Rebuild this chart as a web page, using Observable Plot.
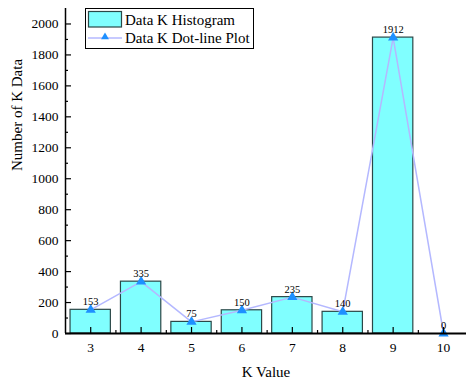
<!DOCTYPE html>
<html>
<head>
<meta charset="utf-8">
<script src="https://cdn.jsdelivr.net/npm/d3@7"></script>
<script src="https://cdn.jsdelivr.net/npm/@observablehq/plot@0.6"></script>
<style>
  html, body { margin: 0; padding: 0; background: #fff; }
  #wrap { position: relative; width: 466px; height: 379px; font-family: "Liberation Serif", "Times New Roman", serif; }
  #wrap svg text { font-family: "Liberation Serif", "Times New Roman", serif !important; font-variant: normal !important; }
  #legend { position: absolute; left: 84.5px; top: 7.5px; }
</style>
</head>
<body>
<div id="wrap"></div>
<script>
const kValues = [3, 4, 5, 6, 7, 8, 9, 10];
const counts = [153, 335, 75, 150, 235, 140, 1912, 0];
const xMajorTicks = [3, 4, 5, 6, 7, 8, 9, 10];
const xMinorTicks = [3.5, 4.5, 5.5, 6.5, 7.5, 8.5, 9.5];
const yMajorTicks = [0, 200, 400, 600, 800, 1000, 1200, 1400, 1600, 1800, 2000];
const yMinorTicks = [100, 300, 500, 700, 900, 1100, 1300, 1500, 1700, 1900];
const seriesNames = ["Data K Histogram", "Data K Dot-line Plot"];
const xTitle = "K Value";
const yTitle = "Number of K Data";

const data = kValues.map((k, i) => ({k, n: counts[i]}));

const barFill = "#80ffff";
const barStroke = "#2b4848";
const lineColor = "#b4b8ff";
const markerColor = "#1e90ff";
const markerR = 3.8;
const font = '"Liberation Serif", "Times New Roman", serif';

const W = 466, H = 379, mT = 8, mB = 46, mL = 65, mR = 0;
const frameW = W - mL - mR, frameH = H - mT - mB;

const chart = Plot.plot({
  width: W, height: H,
  marginTop: mT, marginBottom: mB, marginLeft: mL, marginRight: mR,
  style: {fontFamily: font, fontSize: "13.5px", color: "#000", background: "#fff"},
  x: {domain: [2.5, 10.455]},
  y: {domain: [0, 2100]},
  marks: [
    Plot.rectY(data, {x1: d => d.k - 0.4, x2: d => d.k + 0.4, y: "n", fill: barFill, stroke: barStroke, strokeWidth: 1.2}),
    Plot.line(data, {x: "k", y: "n", stroke: lineColor, strokeWidth: 1.5}),
    Plot.dot(data, {x: "k", y: "n", symbol: "triangle", fill: markerColor, stroke: "none", r: markerR}),
    Plot.text(data, {x: "k", y: "n", text: d => String(d.n), lineAnchor: "bottom", dy: -4.5, fontSize: 10.5, fontFamily: font, fill: "#000"}),
    Plot.axisX({ticks: xMajorTicks, tickSize: 0, tickPadding: 9, tickFormat: d => String(d), label: null, fontSize: 13.5, fontFamily: font}),
    Plot.axisY({ticks: yMajorTicks, tickSize: 0, tickPadding: 7, tickFormat: d => String(d), label: null, fontSize: 13.5, fontFamily: font}),
    Plot.tickX(xMajorTicks, {x: d => d, insetTop: frameH - 6, stroke: "#000", strokeWidth: 1.2}),
    Plot.tickX(xMinorTicks, {x: d => d, insetTop: frameH - 3, stroke: "#000", strokeWidth: 1.2}),
    Plot.tickY(yMajorTicks, {y: d => d, insetRight: frameW - 6, stroke: "#000", strokeWidth: 1.2}),
    Plot.tickY(yMinorTicks, {y: d => d, insetRight: frameW - 3, stroke: "#000", strokeWidth: 1.2}),
    Plot.ruleX([2.5], {stroke: "#000", strokeWidth: 1.5}),
    Plot.ruleY([0], {stroke: "#000", strokeWidth: 1.8}),
    Plot.text([xTitle], {text: d => d, frameAnchor: "bottom", lineAnchor: "top", dy: 33, fontSize: 15, fontFamily: font, fill: "#000"}),
    Plot.text([yTitle], {text: d => d, frameAnchor: "left", rotate: -90, lineAnchor: "top", dx: -54, fontSize: 15, fontFamily: font, fill: "#000"})
  ]
});

const wrap = document.getElementById("wrap");
wrap.appendChild(chart);

// legend overlay
const lg = d3.create("svg").attr("id", "legend").attr("width", 170).attr("height", 42)
  .attr("font-family", font).attr("font-size", 15);
lg.append("rect").attr("x", 0.5).attr("y", 0.5).attr("width", 168).attr("height", 40)
  .attr("fill", "#fff").attr("stroke", "#000").attr("stroke-width", 1);
lg.append("rect").attr("x", 3.5).attr("y", 3.5).attr("width", 33).attr("height", 15.5)
  .attr("fill", barFill).attr("stroke", barStroke).attr("stroke-width", 1.2);
lg.append("text").attr("x", 40).attr("y", 16.5).text(seriesNames[0]);
lg.append("line").attr("x1", 3).attr("x2", 37).attr("y1", 30).attr("y2", 30)
  .attr("stroke", lineColor).attr("stroke-width", 1.5);
lg.append("path").attr("d", d3.symbol(d3.symbolTriangle2, markerR * markerR * Math.PI)()).attr("transform", "translate(20,29)")
  .attr("fill", markerColor);
lg.append("text").attr("x", 40).attr("y", 34.5).text(seriesNames[1]);
wrap.appendChild(lg.node());
</script>
</body>
</html>
